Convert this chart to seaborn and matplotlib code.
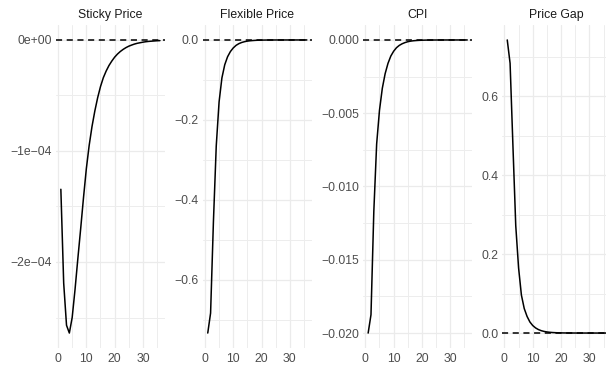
import matplotlib
matplotlib.use("Agg")
import matplotlib.pyplot as plt
import matplotlib.ticker as mticker
import seaborn as sns
import pandas as pd

# impulse responses, periods 1..36
periods = list(range(1, 37))

sticky_price = [
    -1.345e-4, -2.19e-4, -2.57e-4, -2.64e-4, -2.50e-4, -2.25e-4, -1.97e-4, -1.70e-4,
    -1.42e-4, -1.16e-4, -0.95e-4, -0.78e-4, -0.64e-4, -0.52e-4, -0.42e-4, -0.34e-4,
    -0.28e-4, -0.23e-4, -0.19e-4, -0.155e-4, -0.127e-4, -0.104e-4, -0.085e-4, -0.069e-4,
    -0.056e-4, -0.046e-4, -0.037e-4, -0.030e-4, -0.025e-4, -0.020e-4, -0.016e-4, -0.013e-4,
    -0.011e-4, -0.009e-4, -0.007e-4, -0.006e-4,
]
flexible_price = [
    -0.733, -0.683, -0.455, -0.265, -0.155, -0.095, -0.062, -0.042,
    -0.029, -0.020, -0.0135, -0.0092, -0.0063, -0.0043, -0.0029, -0.0020,
    -0.0014, -0.0009, -0.0006, -0.0004, -0.00028, -0.00019, -0.00013, -0.00009,
    -0.00006, -0.00004, -0.00003, -0.00002, -0.000015, -0.00001, -0.000007, -0.000005,
    -0.000003, -0.000002, -0.000002, -0.000001,
]
cpi = [
    -0.0200, -0.01875, -0.0117, -0.0071, -0.0048, -0.0033, -0.0023, -0.0016,
    -0.0011, -0.00077, -0.00053, -0.00037, -0.00026, -0.00018, -0.00012, -0.00008,
    -0.000055, -0.000038, -0.000026, -0.000018, -0.000012, -0.000008, -0.000006, -0.000004,
    -0.000003, -0.000002, -0.0000015, -0.000001, -0.0000007, -0.0000005, -0.0000003, -0.0000002,
    -0.0000002, -0.0000001, -0.0000001, -0.0000001,
]
price_gap = [
    0.742, 0.683, 0.475, 0.272, 0.165, 0.096, 0.062, 0.042,
    0.028, 0.019, 0.013, 0.0088, 0.006, 0.0041, 0.0028, 0.0019,
    0.0013, 0.0009, 0.0006, 0.0004, 0.00028, 0.00019, 0.00013, 0.00009,
    0.00006, 0.00004, 0.00003, 0.00002, 0.000015, 0.00001, 0.000007, 0.000005,
    0.000003, 0.000002, 0.000002, 0.000001,
]

panel_titles = ["Sticky Price", "Flexible Price", "CPI", "Price Gap"]
panel_values = [sticky_price, flexible_price, cpi, price_gap]

y_major = [
    [0, -1e-4, -2e-4],
    [0, -0.2, -0.4, -0.6],
    [0, -0.005, -0.010, -0.015, -0.020],
    [0, 0.2, 0.4, 0.6],
]
y_labels = [
    ["0e+00", "\u22121e\u221204", "\u22122e\u221204"],
    ["0.0", "\u22120.2", "\u22120.4", "\u22120.6"],
    ["0.000", "\u22120.005", "\u22120.010", "\u22120.015", "\u22120.020"],
    ["0.0", "0.2", "0.4", "0.6"],
]
y_minor = [
    [-0.5e-4, -1.5e-4, -2.5e-4],
    [-0.1, -0.3, -0.5, -0.7],
    [-0.0025, -0.0075, -0.0125, -0.0175],
    [0.1, 0.3, 0.5, 0.7],
]
x_major = [0, 10, 20, 30]
x_minor = [5, 15, 25, 35]

sns.set_theme(style="white")
plt.rcParams["font.family"] = ["Liberation Sans", "DejaVu Sans"]

fig = plt.figure(figsize=(6.06, 3.65), dpi=100)

W, H = 606.0, 365.0
panel_left_px = [55.9, 202.8, 363.2, 502.3]
panel_w_px = 109.0
panel_top_px, panel_bot_px = 25.3, 347.7

for i, (title, vals) in enumerate(zip(panel_titles, panel_values)):
    ax = fig.add_axes([panel_left_px[i] / W, 1 - panel_bot_px / H,
                       panel_w_px / W, (panel_bot_px - panel_top_px) / H])
    df = pd.DataFrame({"period": periods, "value": vals})
    sns.lineplot(data=df, x="period", y="value", ax=ax, color="black",
                 linewidth=1.1, zorder=3)
    ax.axhline(0, color="black", linestyle=(0, (4, 3)), linewidth=1.1, zorder=2)

    lo, hi = min(min(vals), 0), max(max(vals), 0)
    pad = 0.05 * (hi - lo)
    ax.set_ylim(lo - pad, hi + pad)
    ax.set_xlim(1 - 0.05 * 35, 36 + 0.05 * 35)

    ax.xaxis.set_major_locator(mticker.FixedLocator(x_major))
    ax.xaxis.set_minor_locator(mticker.FixedLocator(x_minor))
    ax.yaxis.set_major_locator(mticker.FixedLocator(y_major[i]))
    ax.yaxis.set_major_formatter(mticker.FixedFormatter(y_labels[i]))
    ax.yaxis.set_minor_locator(mticker.FixedLocator(y_minor[i]))

    ax.grid(which="major", color="#EBEBEB", linewidth=0.9, zorder=0)
    ax.grid(which="minor", color="#EDEDED", linewidth=0.7, zorder=0)
    ax.set_axisbelow(True)
    for s in ax.spines.values():
        s.set_visible(False)
    ax.tick_params(which="both", length=0)
    ax.tick_params(axis="x", pad=3.5, labelsize=8.8, labelcolor="#4D4D4D")
    ax.tick_params(axis="y", pad=3.0, labelsize=8.8, labelcolor="#4D4D4D")
    ax.set_xlabel("")
    ax.set_ylabel("")
    ax.set_title(title, fontsize=8.8, color="#1A1A1A", pad=5)
    ax.set_facecolor("white")

fig.savefig("out.png", dpi=100, facecolor="white")
